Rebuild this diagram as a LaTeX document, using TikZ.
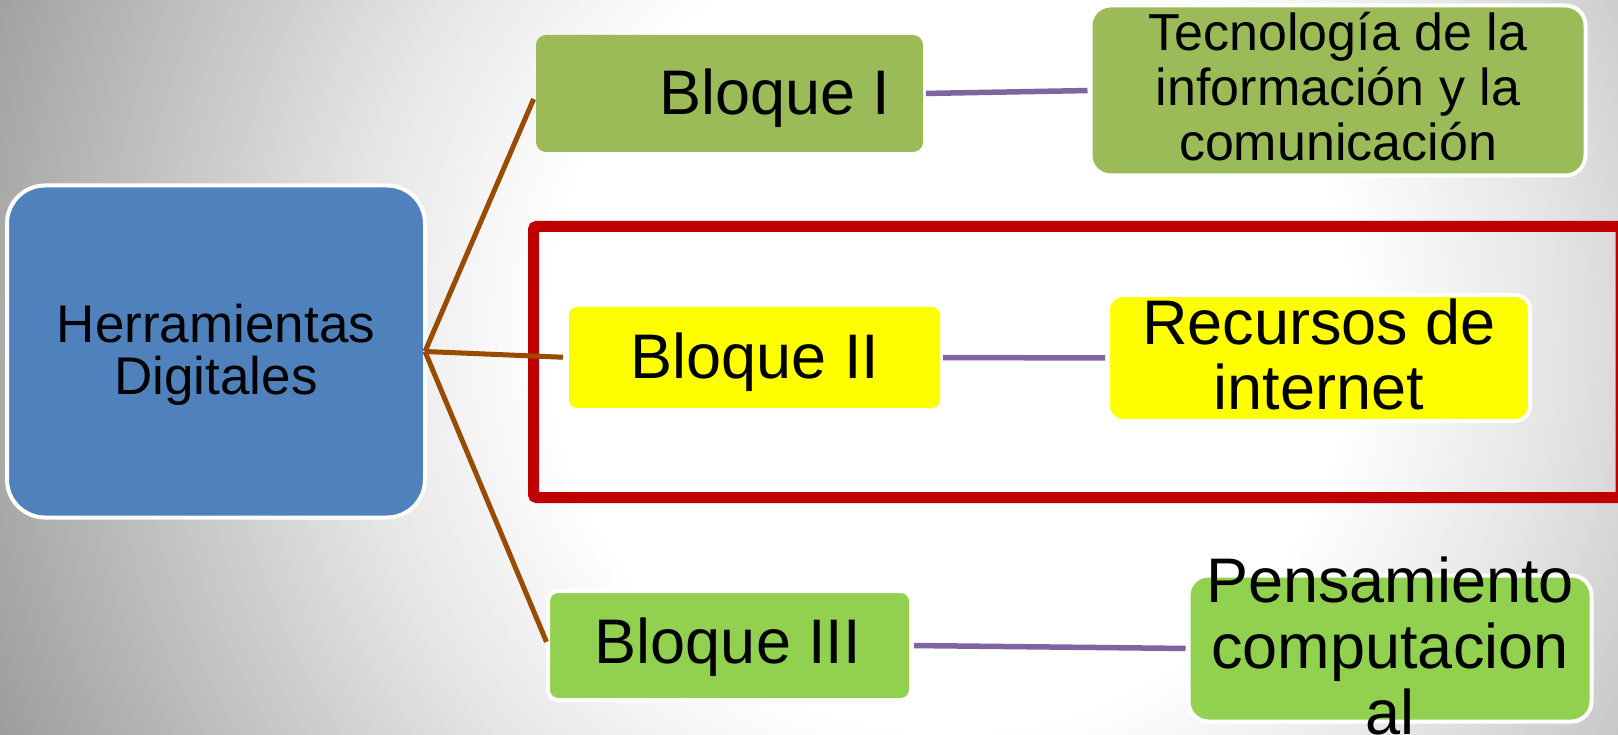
\documentclass[tikz,border=0pt]{standalone}
\usepackage{fontspec}
\setmainfont{Liberation Sans}
\definecolor{hblue}{HTML}{4F81BD}
\definecolor{gOne}{HTML}{9BBB59}
\definecolor{gTwo}{HTML}{92D050}
\definecolor{yel}{HTML}{FFFF00}
\definecolor{redframe}{HTML}{C00000}
\definecolor{brn}{HTML}{994C00}
\definecolor{purp}{HTML}{8064A2}
\pgfdeclareradialshading{bgshade}{\pgfpoint{0bp}{0bp}}{color(0bp)=(white); color(16.7bp)=(white); color(25bp)=(black!10); color(43.75bp)=(black!40); color(50bp)=(black!45)}
\newcommand{\mystack}[2]{\vtop{\baselineskip=#1pt\lineskiplimit=-1000pt\lineskip=0pt\halign{\hfil##\hfil\cr#2\crcr}}}
\tikzset{
  bx/.style={rectangle, inner sep=0pt, outer sep=0pt},
  wb/.style={draw=white, line width=4pt},
  txt/.style={anchor=base, inner sep=0pt, outer sep=0pt, text=black},
  big/.style={font=\fontsize{63}{70}\selectfont},
  brline/.style={draw=brn, line width=5pt},
  puline/.style={draw=purp, line width=5.5pt, shorten <=3pt, shorten >=3pt},
}
\begin{document}
\begin{tikzpicture}[x=1pt, y=-1pt]
\useasboundingbox (0,0) rectangle (1618,735);
% background
\begin{scope}
  \clip (0,0) rectangle (1618,735);
  \begin{pgfscope}
    \pgftransformshift{\pgfpoint{950pt}{-330pt}}
    \pgftransformscale{24}
    \pgflowlevelsynccm
    \pgfuseshading{bgshade}
  \end{pgfscope}
\end{scope}
% red frame
\draw[draw=redframe, line width=11pt, rounded corners=3pt] (533.5,226.5) rectangle (1621,497.5);
% boxes
\node[bx, wb, fill=hblue, rounded corners=38pt, minimum width=418pt, minimum height=332pt] (herr) at (216,351.5) {};
\node[bx, fill=gOne, rounded corners=10pt, minimum width=387pt, minimum height=117pt] (b1) at (729.5,93.5) {};
\node[bx, wb, fill=gOne, rounded corners=20pt, minimum width=495pt, minimum height=170pt] (tec) at (1338,90.5) {};
\node[bx, fill=yel, rounded corners=8pt, minimum width=371pt, minimum height=101pt] (b2) at (754.5,357.5) {};
\node[bx, wb, fill=yel, rounded corners=15pt, minimum width=422pt, minimum height=126pt] (rec) at (1319,358) {};
\node[bx, wb, fill=gTwo, rounded corners=10pt, minimum width=363pt, minimum height=109pt] (b3) at (729.5,645.5) {};
\node[bx, wb, fill=gTwo, rounded corners=20pt, minimum width=403pt, minimum height=146pt] (pen) at (1390,648.5) {};
% brown connectors
\draw[brline, shorten >=6pt] (herr.east) -- (b1.west);
\draw[brline, shorten >=6pt] (herr.east) -- (b2.west);
\draw[brline, shorten >=4pt] (herr.east) -- (b3.west);
% purple connectors
\draw[puline] (b1.east) -- (tec.west);
\draw[puline] (b2.east) -- (rec.west);
\draw[puline] (b3.east) -- (pen.west);
% texts
\node[txt, font=\fontsize{53}{60}\selectfont] (herrt) at (216,343) {\mystack{52}{Herramientas\cr Digitales}};
\node[txt, big] (b1t) at (775,115) {Bloque I};
\node[txt, font=\fontsize{52}{58}\selectfont] (tect) at (1338,51) {\mystack{55}{Tecnología de la\cr información y la\cr comunicación}};
\node[txt, big] (b2t) at (755,378) {Bloque II};
\node[txt, big] (rect) at (1319,345) {\mystack{65}{Recursos de\cr internet}};
\node[txt, big] (b3t) at (728,663) {Bloque III};
\node[txt, big] (pent) at (1390,602) {\mystack{66}{Pensamiento\cr computacion\cr al}};
\end{tikzpicture}
\end{document}
